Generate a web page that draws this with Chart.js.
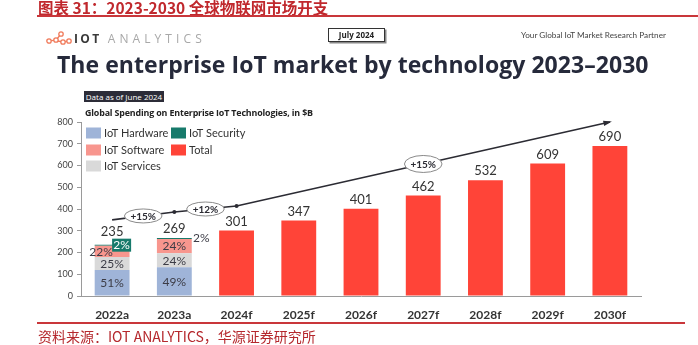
<!DOCTYPE html>
<html>
<head>
<meta charset="utf-8">
<script src="https://cdn.jsdelivr.net/npm/chart.js@4.4.1/dist/chart.umd.min.js"></script>
<style>
  html, body { margin: 0; padding: 0; background: #fff; }
  #page { position: relative; width: 698px; height: 345px; overflow: hidden; font-family: Lato, sans-serif; }
  #chart { position: absolute; left: 0; top: 0; }
  .abs { position: absolute; white-space: nowrap; }
  #topTitle { left: 38px; top: -4px; font: bold 15.5px "Noto Sans CJK SC", sans-serif; color: #c0282d; }
  #topLine { left: 37px; top: 15px; width: 661px; height: 2px; background: #c9363a; }
  #logoText { left: 74px; top: 30px; font: 12px "Open Sans", sans-serif; letter-spacing: 4.1px; color: #a8a8a8; }
  #logoText b { color: #3a3a3a; font-weight: 700; letter-spacing: 2.4px; margin-right: 6px; }
  #july { left: 328px; top: 28px; width: 55px; height: 12px; border: 1.5px solid #333; box-shadow: 1.5px 1.5px 0 #888;
          font: bold 8px "Open Sans", sans-serif; color: #222; text-align: center; line-height: 12px; }
  #partner { left: 521px; top: 30px; font: 8.2px Lato, sans-serif; color: #444; }
  #mainTitle { left: 57px; top: 48px; font: bold 23px "Open Sans", sans-serif; color: #262a3b; letter-spacing: 0.05px; }
  #dataAsOf { left: 84px; top: 91px; width: 80px; height: 11px; background: #2c2c38; color: #fff;
              font: 8px "Open Sans", sans-serif; text-align: center; line-height: 11px; }
  #subTitle { left: 85px; top: 106px; font: bold 8.9px "Open Sans", sans-serif; color: #222; letter-spacing: -0.15px; }
  #botLine { left: 37px; top: 322px; width: 648px; height: 2px; background: #c9363a; }
  #source { left: 38px; top: 326px; font: 14px "Noto Sans CJK SC", sans-serif; color: #b5282d; }
</style>
</head>
<body>
<div id="page">
  <canvas id="chart" width="698" height="345"></canvas>
  <div class="abs" id="topTitle">图表 31：2023-2030 全球物联网市场开支</div>
  <div class="abs" id="topLine"></div>
  <svg class="abs" style="left:46px;top:31px" width="26" height="14" viewBox="0 0 26 14">
    <g fill="none" stroke="#f07a5a" stroke-width="1.3">
      <circle cx="3" cy="10" r="2.2"/><circle cx="10" cy="9" r="2.2"/><circle cx="15" cy="3" r="2.2"/>
      <circle cx="17" cy="11" r="2.2"/><circle cx="23" cy="10" r="2.2"/>
      <path d="M5.2 9.7 L7.8 9.3 M11.5 7.2 L13.6 4.8 M11.8 10 L15 10.7 M19.2 10.7 L20.8 10.3"/>
    </g>
  </svg>
  <div class="abs" id="logoText"><b>IOT</b>ANALYTICS</div>
  <div class="abs" id="july">July 2024</div>
  <div class="abs" id="partner">Your Global IoT Market Research Partner</div>
  <div class="abs" id="mainTitle">The enterprise IoT market by technology 2023–2030</div>
  <div class="abs" id="dataAsOf">Data as of June 2024</div>
  <div class="abs" id="subTitle">Global Spending on Enterprise IoT Technologies, in $B</div>
  <div class="abs" id="botLine"></div>
  <div class="abs" id="source">资料来源：IOT ANALYTICS，华源证券研究所</div>
</div>
<script>
// Categories and values ($B)
const years = ['2022a', '2023a', '2024f', '2025f', '2026f', '2027f', '2028f', '2029f', '2030f'];
const hardware = [120, 132, null, null, null, null, null, null, null];
const services = [59, 65, null, null, null, null, null, null, null];
const software = [52, 65, null, null, null, null, null, null, null];
const security = [5, 5, null, null, null, null, null, null, null];
const total = [null, null, 301, 347, 401, 462, 532, 609, 690];
const stackTotals = [235, 269];

// Share labels in the stacked bars
const hardwarePct = ['51%', '49%'];
const servicesPct = ['25%', '24%'];
const softwarePct = ['22%', '24%'];
const securityPct = ['2%', '2%'];

// Growth arrow: [category index, value] and the CAGR bubbles along it
const trendPoints = [[0, 350], [1, 386], [2, 414], [8, 800]];
const trendBubbles = [[0.5, 368, '+15%'], [1.5, 400, '+12%'], [5, 607, '+15%']];

const colors = {
  hardware: '#9fb4d8',
  services: '#d9d9d9',
  software: '#f8968e',
  security: '#177a6b',
  total: '#ff4438'
};
const labelColor = '#3c3c46';

// Legend drawn inside the plot, two columns like the original
const legendPlugin = {
  id: 'cornerLegend',
  afterDraw(chart) {
    const ctx = chart.ctx;
    const items = [
      [0, 86, 133], [3, 171, 133],
      [2, 86, 150], [4, 171, 150],
      [1, 86, 166]
    ];
    ctx.save();
    ctx.font = '11px Lato';
    ctx.textBaseline = 'middle';
    items.forEach(([di, x, y]) => {
      const ds = chart.data.datasets[di];
      ctx.fillStyle = ds.backgroundColor;
      ctx.fillRect(x, y - 5.5, 15, 11);
      ctx.fillStyle = '#333';
      ctx.fillText(ds.label, x + 18, y + 0.5);
    });
    ctx.restore();
  }
};

// Percent labels inside the stacks plus stack totals
const stackLabelPlugin = {
  id: 'stackLabels',
  afterDatasetsDraw(chart) {
    const ctx = chart.ctx;
    const pcts = [hardwarePct, servicesPct, softwarePct];
    ctx.save();
    ctx.textAlign = 'center';
    ctx.textBaseline = 'middle';
    ctx.font = '12px Lato';
    ctx.fillStyle = labelColor;
    pcts.forEach((arr, di) => {
      const meta = chart.getDatasetMeta(di);
      arr.forEach((txt, i) => {
        const el = meta.data[i];
        let dx = 0;
        if (di === 2 && i === 0) dx = -11;
        ctx.fillText(txt, el.x + dx, (el.y + el.base) / 2 + 0.5);
      });
    });

    // security shares: boxed on 2022a, beside the bar on 2023a
    const sec = chart.getDatasetMeta(3);
    const e0 = sec.data[0];
    ctx.fillStyle = colors.security;
    ctx.fillRect(e0.x, e0.y - 6, 19, 13);
    ctx.fillStyle = '#fff';
    ctx.fillText(securityPct[0], e0.x + 9.5, e0.y + 0.5);
    const e1 = sec.data[1];
    ctx.fillStyle = labelColor;
    ctx.fillText(securityPct[1], e1.x + 27, e1.y + 0.5);

    // totals
    ctx.font = '13px Lato';
    ctx.fillStyle = '#333';
    stackTotals.forEach((v, i) => {
      const el = sec.data[i];
      ctx.fillText(String(v), el.x, el.y - (i === 0 ? 13 : 9));
    });
    const tm = chart.getDatasetMeta(4);
    total.forEach((v, i) => {
      if (v == null) return;
      const el = tm.data[i];
      ctx.fillText(String(v), el.x, el.y - 9);
    });
    ctx.restore();
  }
};

// CAGR arrow with bubbles
const trendPlugin = {
  id: 'trend',
  afterDatasetsDraw(chart) {
    const ctx = chart.ctx;
    const xs = chart.scales.x, ys = chart.scales.y;
    const pts = trendPoints.map(([i, v]) => [xs.getPixelForValue(i), ys.getPixelForValue(v)]);
    ctx.save();
    ctx.strokeStyle = '#2b2b33';
    ctx.lineWidth = 1.6;
    ctx.beginPath();
    pts.forEach(([x, y], k) => (k ? ctx.lineTo(x, y) : ctx.moveTo(x, y)));
    ctx.stroke();
    // dots at joints
    ctx.fillStyle = '#2b2b33';
    pts.slice(1, -1).forEach(([x, y]) => {
      ctx.beginPath();
      ctx.arc(x, y, 2, 0, Math.PI * 2);
      ctx.fill();
    });
    // arrow head
    const [ax, ay] = pts[pts.length - 1];
    const [bx, by] = pts[pts.length - 2];
    const ang = Math.atan2(ay - by, ax - bx);
    ctx.beginPath();
    ctx.moveTo(ax + 2, ay + 2 * Math.tan(ang));
    ctx.lineTo(ax - 7 * Math.cos(ang - 0.4), ay - 7 * Math.sin(ang - 0.4));
    ctx.lineTo(ax - 7 * Math.cos(ang + 0.4), ay - 7 * Math.sin(ang + 0.4));
    ctx.closePath();
    ctx.fill();
    // bubbles
    ctx.font = 'bold 10px Lato';
    ctx.textAlign = 'center';
    ctx.textBaseline = 'middle';
    trendBubbles.forEach(([i, v, txt], k) => {
      const x = xs.getPixelForValue(i), y = ys.getPixelForValue(v);
      const rx = ctx.measureText(txt).width / 2 + 6;
      const ry = k === 2 ? 8.5 : 7;
      ctx.beginPath();
      ctx.ellipse(x, y, rx, ry, 0, 0, Math.PI * 2);
      ctx.fillStyle = '#fff';
      ctx.fill();
      ctx.strokeStyle = '#8a8a8a';
      ctx.lineWidth = 1;
      ctx.stroke();
      ctx.fillStyle = '#2b2b33';
      ctx.fillText(txt, x, y + 0.5);
    });
    ctx.restore();
  }
};

new Chart(document.getElementById('chart'), {
  type: 'bar',
  data: {
    labels: years,
    datasets: [
      { label: 'IoT Hardware', data: hardware, backgroundColor: colors.hardware },
      { label: 'IoT Services', data: services, backgroundColor: colors.services },
      { label: 'IoT Software', data: software, backgroundColor: colors.software },
      { label: 'IoT Security', data: security, backgroundColor: colors.security },
      { label: 'Total', data: total, backgroundColor: colors.total }
    ]
  },
  options: {
    responsive: false,
    animation: false,
    layout: { padding: { left: 0, right: 57, top: 122, bottom: 25 } },
    datasets: { bar: { barPercentage: 0.56, categoryPercentage: 1, borderWidth: 0 } },
    plugins: { legend: { display: false }, tooltip: { enabled: false } },
    scales: {
      x: {
        stacked: true,
        grid: { display: false },
        border: { color: '#9a9a9a', width: 1 },
        ticks: { color: '#333', font: { family: 'Lato', size: 12, weight: 'bold' }, padding: 4 },
        afterFit(s) { s.height = 24; }
      },
      y: {
        stacked: true,
        min: 0,
        max: 800,
        grid: { drawOnChartArea: false, drawTicks: true, tickLength: 4, color: '#9a9a9a' },
        border: { color: '#9a9a9a', width: 1 },
        ticks: { stepSize: 100, color: '#444', font: { family: 'Lato', size: 9 }, padding: 4 },
        afterFit(s) { s.width = 81; }
      }
    }
  },
  plugins: [legendPlugin, stackLabelPlugin, trendPlugin]
});
</script>
</body>
</html>
